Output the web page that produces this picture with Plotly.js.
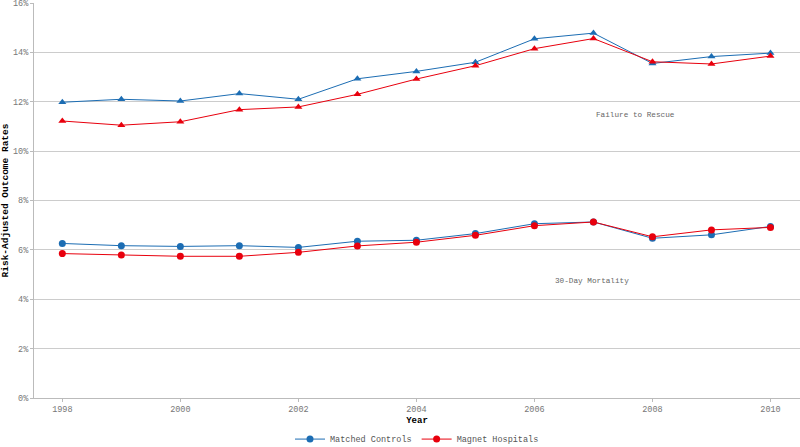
<!DOCTYPE html>
<html><head><meta charset="utf-8">
<script src="https://cdn.plot.ly/plotly-3.0.1.min.js"></script>
<style>html,body{margin:0;padding:0;background:#fff}#c{width:800px;height:447px}</style>
</head><body><div id="c"></div>
<script>
const years = [1998,1999,2000,2001,2002,2003,2004,2005,2006,2007,2008,2009,2010];
const ftrControls = [11.98,12.10,12.03,12.33,12.10,12.93,13.23,13.60,14.55,14.78,13.55,13.83,13.97];
const ftrMagnet   = [11.22,11.05,11.19,11.68,11.79,12.30,12.92,13.46,14.15,14.56,13.62,13.53,13.85];
const mortControls = [6.26,6.17,6.14,6.17,6.10,6.35,6.39,6.66,7.06,7.13,6.47,6.61,6.95];
const mortMagnet   = [5.85,5.79,5.74,5.74,5.90,6.16,6.31,6.59,6.98,7.13,6.53,6.81,6.91];
const seriesNames = ["Matched Controls","Magnet Hospitals"];
const blue = "#1c6db3", red = "#e8000d";
const mono = "Liberation Mono, Courier New, monospace";

const traces = [
  {x:years,y:ftrControls,mode:"lines+markers",name:seriesNames[0],showlegend:false,
   line:{color:blue,width:1},marker:{symbol:"triangle-up",size:7,color:blue}},
  {x:years,y:ftrMagnet,mode:"lines+markers",name:seriesNames[1],showlegend:false,
   line:{color:red,width:1},marker:{symbol:"triangle-up",size:7,color:red}},
  {x:years,y:mortControls,mode:"lines+markers",name:seriesNames[0],
   line:{color:blue,width:1},marker:{symbol:"circle",size:7,color:blue}},
  {x:years,y:mortMagnet,mode:"lines+markers",name:seriesNames[1],
   line:{color:red,width:1},marker:{symbol:"circle",size:7,color:red}}
];

const layout = {
  width:800,height:447,
  margin:{l:34,r:0,t:3,b:49,autoexpand:false},
  paper_bgcolor:"#fff",plot_bgcolor:"#fff",
  font:{family:mono,size:8,color:"#777"},
  xaxis:{range:[1997.52,2010.5],tickmode:"array",tickvals:[1998,2000,2002,2004,2006,2008,2010],
    showgrid:false,zeroline:false,showline:true,linecolor:"#bbb",linewidth:1,automargin:false,
    ticks:"outside",ticklen:3,tickcolor:"#bbb",tickfont:{family:mono,size:8.5,color:"#777"},
    title:{text:"<b>Year</b>",font:{family:mono,size:9,color:"#000"},standoff:2}},
  yaxis:{range:[0,16],tickvals:[0,2,4,6,8,10,12,14,16],ticktext:["0%","2%","4%","6%","8%","10%","12%","14%","16%"],
    showgrid:true,gridcolor:"#ccc",gridwidth:1,zeroline:false,showline:true,linecolor:"#bbb",linewidth:1,automargin:false,
    ticks:"outside",ticklen:3,tickcolor:"#bbb",tickfont:{family:mono,size:8.5,color:"#777"},
    ticklabeloverflow:"allow",
    title:{text:"<b>Risk-Adjusted Outcome Rates</b>",font:{family:mono,size:9.5,color:"#000"},standoff:3}},
  legend:{orientation:"h",x:0.5,xanchor:"center",y:-0.104,yanchor:"middle",
    font:{family:mono,size:8.5,color:"#555"},itemwidth:30,tracegroupgap:0},
  annotations:[
    {x:2007.71,y:11.46,xref:"x",yref:"y",text:"Failure to Rescue",showarrow:false,xanchor:"center",
     font:{family:mono,size:7.7,color:"#666"}},
    {x:2006.97,y:4.74,xref:"x",yref:"y",text:"30-Day Mortality",showarrow:false,xanchor:"center",
     font:{family:mono,size:7.7,color:"#666"}}
  ]
};
Plotly.newPlot("c",traces,layout,{displayModeBar:false,staticPlot:true});
</script></body></html>
